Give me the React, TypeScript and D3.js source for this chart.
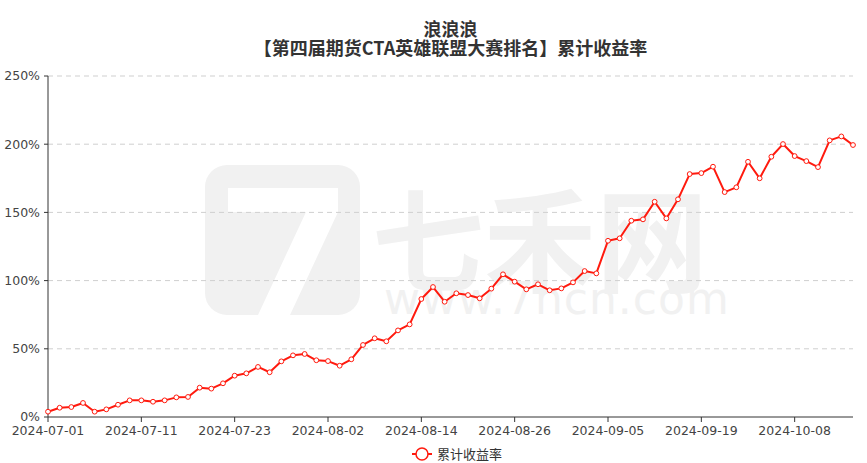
import React from "react";
import * as d3 from "d3";

const dates: string[] = [
  "2024-07-01","2024-07-02","2024-07-03","2024-07-04","2024-07-05","2024-07-08","2024-07-09","2024-07-10",
  "2024-07-11","2024-07-12","2024-07-15","2024-07-16","2024-07-17","2024-07-18","2024-07-19","2024-07-22",
  "2024-07-23","2024-07-24","2024-07-25","2024-07-26","2024-07-29","2024-07-30","2024-07-31","2024-08-01",
  "2024-08-02","2024-08-05","2024-08-06","2024-08-07","2024-08-08","2024-08-09","2024-08-12","2024-08-13",
  "2024-08-14","2024-08-15","2024-08-16","2024-08-19","2024-08-20","2024-08-21","2024-08-22","2024-08-23",
  "2024-08-26","2024-08-27","2024-08-28","2024-08-29","2024-08-30","2024-09-02","2024-09-03","2024-09-04",
  "2024-09-05","2024-09-06","2024-09-09","2024-09-10","2024-09-11","2024-09-12","2024-09-13","2024-09-18",
  "2024-09-19","2024-09-20","2024-09-23","2024-09-24","2024-09-25","2024-09-26","2024-09-27","2024-09-30",
  "2024-10-08","2024-10-09","2024-10-10","2024-10-11","2024-10-14","2024-10-15",
];

const returns: number[] = [
  3.9, 6.8, 7.3, 10.3, 3.9, 5.6, 9.0, 12.2, 12.2, 11.2, 12.2, 14.4, 14.7,
  21.5, 20.8, 24.7, 30.3, 32.0, 36.7, 32.8, 40.8, 45.2, 46.2, 41.6, 41.0,
  37.6, 42.3, 52.8, 57.7, 55.5, 63.5, 67.9, 86.5, 95.3, 84.5, 90.7,
  89.4, 87.0, 94.1, 104.6, 99.2, 93.6, 97.3, 92.9, 94.3, 98.7, 107.0, 105.3,
  129.2, 131.0, 143.9, 144.9, 157.8, 145.6, 159.6, 178.1, 178.8, 183.5, 164.9, 168.4,
  187.1, 175.0, 190.8, 200.1, 191.3, 187.6, 183.2, 202.8, 205.7, 199.4,
];

const yTicks: number[] = [0, 50, 100, 150, 200, 250];
const titleLines: string[] = ["浪浪浪", "【第四届期货CTA英雄联盟大赛排名】累计收益率"];
const seriesName = "累计收益率";
const labelEvery = 8;

const W = 867;
const H = 463;
const M = { left: 48, right: 14, top: 76, bottom: 46 };

export default function App() {
  const x = d3.scalePoint<string>().domain(dates).range([M.left, W - M.right]);
  const y = d3.scaleLinear().domain([0, 250]).range([H - M.bottom, M.top]);
  const line = d3
    .line<number>()
    .x((_, i) => x(dates[i]) as number)
    .y((d) => y(d));
  const xTickDates = dates.filter((_, i) => i % labelEvery === 0);
  const font = "'Noto Sans CJK SC', 'Microsoft YaHei', sans-serif";
  const numFont = "'DejaVu Sans', sans-serif";
  const red = "#ff1a0e";
  const wm = "#f1f1f1";
  const cx = (M.left + W - M.right) / 2;

  return (
    <svg
      width={W}
      height={H}
      style={{ position: "absolute", left: 0, top: 0, display: "block", background: "#fff" }}
    >
      {/* watermark */}
      <g>
        <rect x={205} y={165} width={155} height={150} rx={22} fill={wm} />
        <path d="M228,188 L338,188 L338,212 L290,315 L258,315 L306,212 L228,212 Z" fill="#fff" />
        <text x={372} y={284} fontSize={112} fontFamily={font} fill={wm} fontWeight={700}>
          七禾网
        </text>
        <text x={384} y={314} fontSize={44} fontFamily={numFont} fill={wm} letterSpacing={1}>
          www.7hcn.com
        </text>
      </g>

      {/* title */}
      <g fontFamily={font} fontWeight={700} fill="#333" fontSize={18} textAnchor="middle">
        <text x={cx} y={36}>{titleLines[0]}</text>
        <text x={cx} y={55}>{titleLines[1]}</text>
      </g>

      {/* grid */}
      {yTicks.filter((t) => t > 0).map((t) => (
        <line
          key={"g" + t}
          x1={M.left}
          x2={W - M.right}
          y1={y(t)}
          y2={y(t)}
          stroke="#cfcfcf"
          strokeDasharray="5,4"
        />
      ))}

      {/* y axis */}
      <line x1={M.left} x2={M.left} y1={y(250)} y2={y(0)} stroke="#333" />
      {yTicks.map((t) => (
        <g key={"y" + t}>
          <line x1={M.left - 4} x2={M.left} y1={y(t)} y2={y(t)} stroke="#333" />
          <text
            x={M.left - 8}
            y={y(t)}
            dy="0.35em"
            textAnchor="end"
            fontSize={12.5}
            fontFamily={numFont}
            fill="#444"
          >
            {t + "%"}
          </text>
        </g>
      ))}

      {/* x axis */}
      <line x1={M.left} x2={W - M.right} y1={y(0)} y2={y(0)} stroke="#333" />
      {xTickDates.map((d) => (
        <g key={"x" + d}>
          <line x1={x(d)} x2={x(d)} y1={y(0)} y2={y(0) + 5} stroke="#333" />
          <text
            x={x(d)}
            y={y(0) + 18}
            textAnchor="middle"
            fontSize={12.5}
            fontFamily={numFont}
            fill="#444"
          >
            {d}
          </text>
        </g>
      ))}

      {/* series */}
      <path d={line(returns) || ""} fill="none" stroke={red} strokeWidth={2} strokeLinejoin="round" />
      {returns.map((v, i) => (
        <circle
          key={"p" + i}
          cx={x(dates[i]) as number}
          cy={y(v)}
          r={2.4}
          fill="#fff"
          stroke={red}
          strokeWidth={1}
        />
      ))}

      {/* legend */}
      <g>
        <line x1={412} x2={432} y1={454} y2={454} stroke={red} strokeWidth={2} />
        <circle cx={422} cy={454} r={6} fill="#fff" stroke={red} strokeWidth={1.5} />
        <text x={437} y={454} dy="0.35em" fontSize={13} fontFamily={font} fill="#333">
          {seriesName}
        </text>
      </g>
    </svg>
  );
}
